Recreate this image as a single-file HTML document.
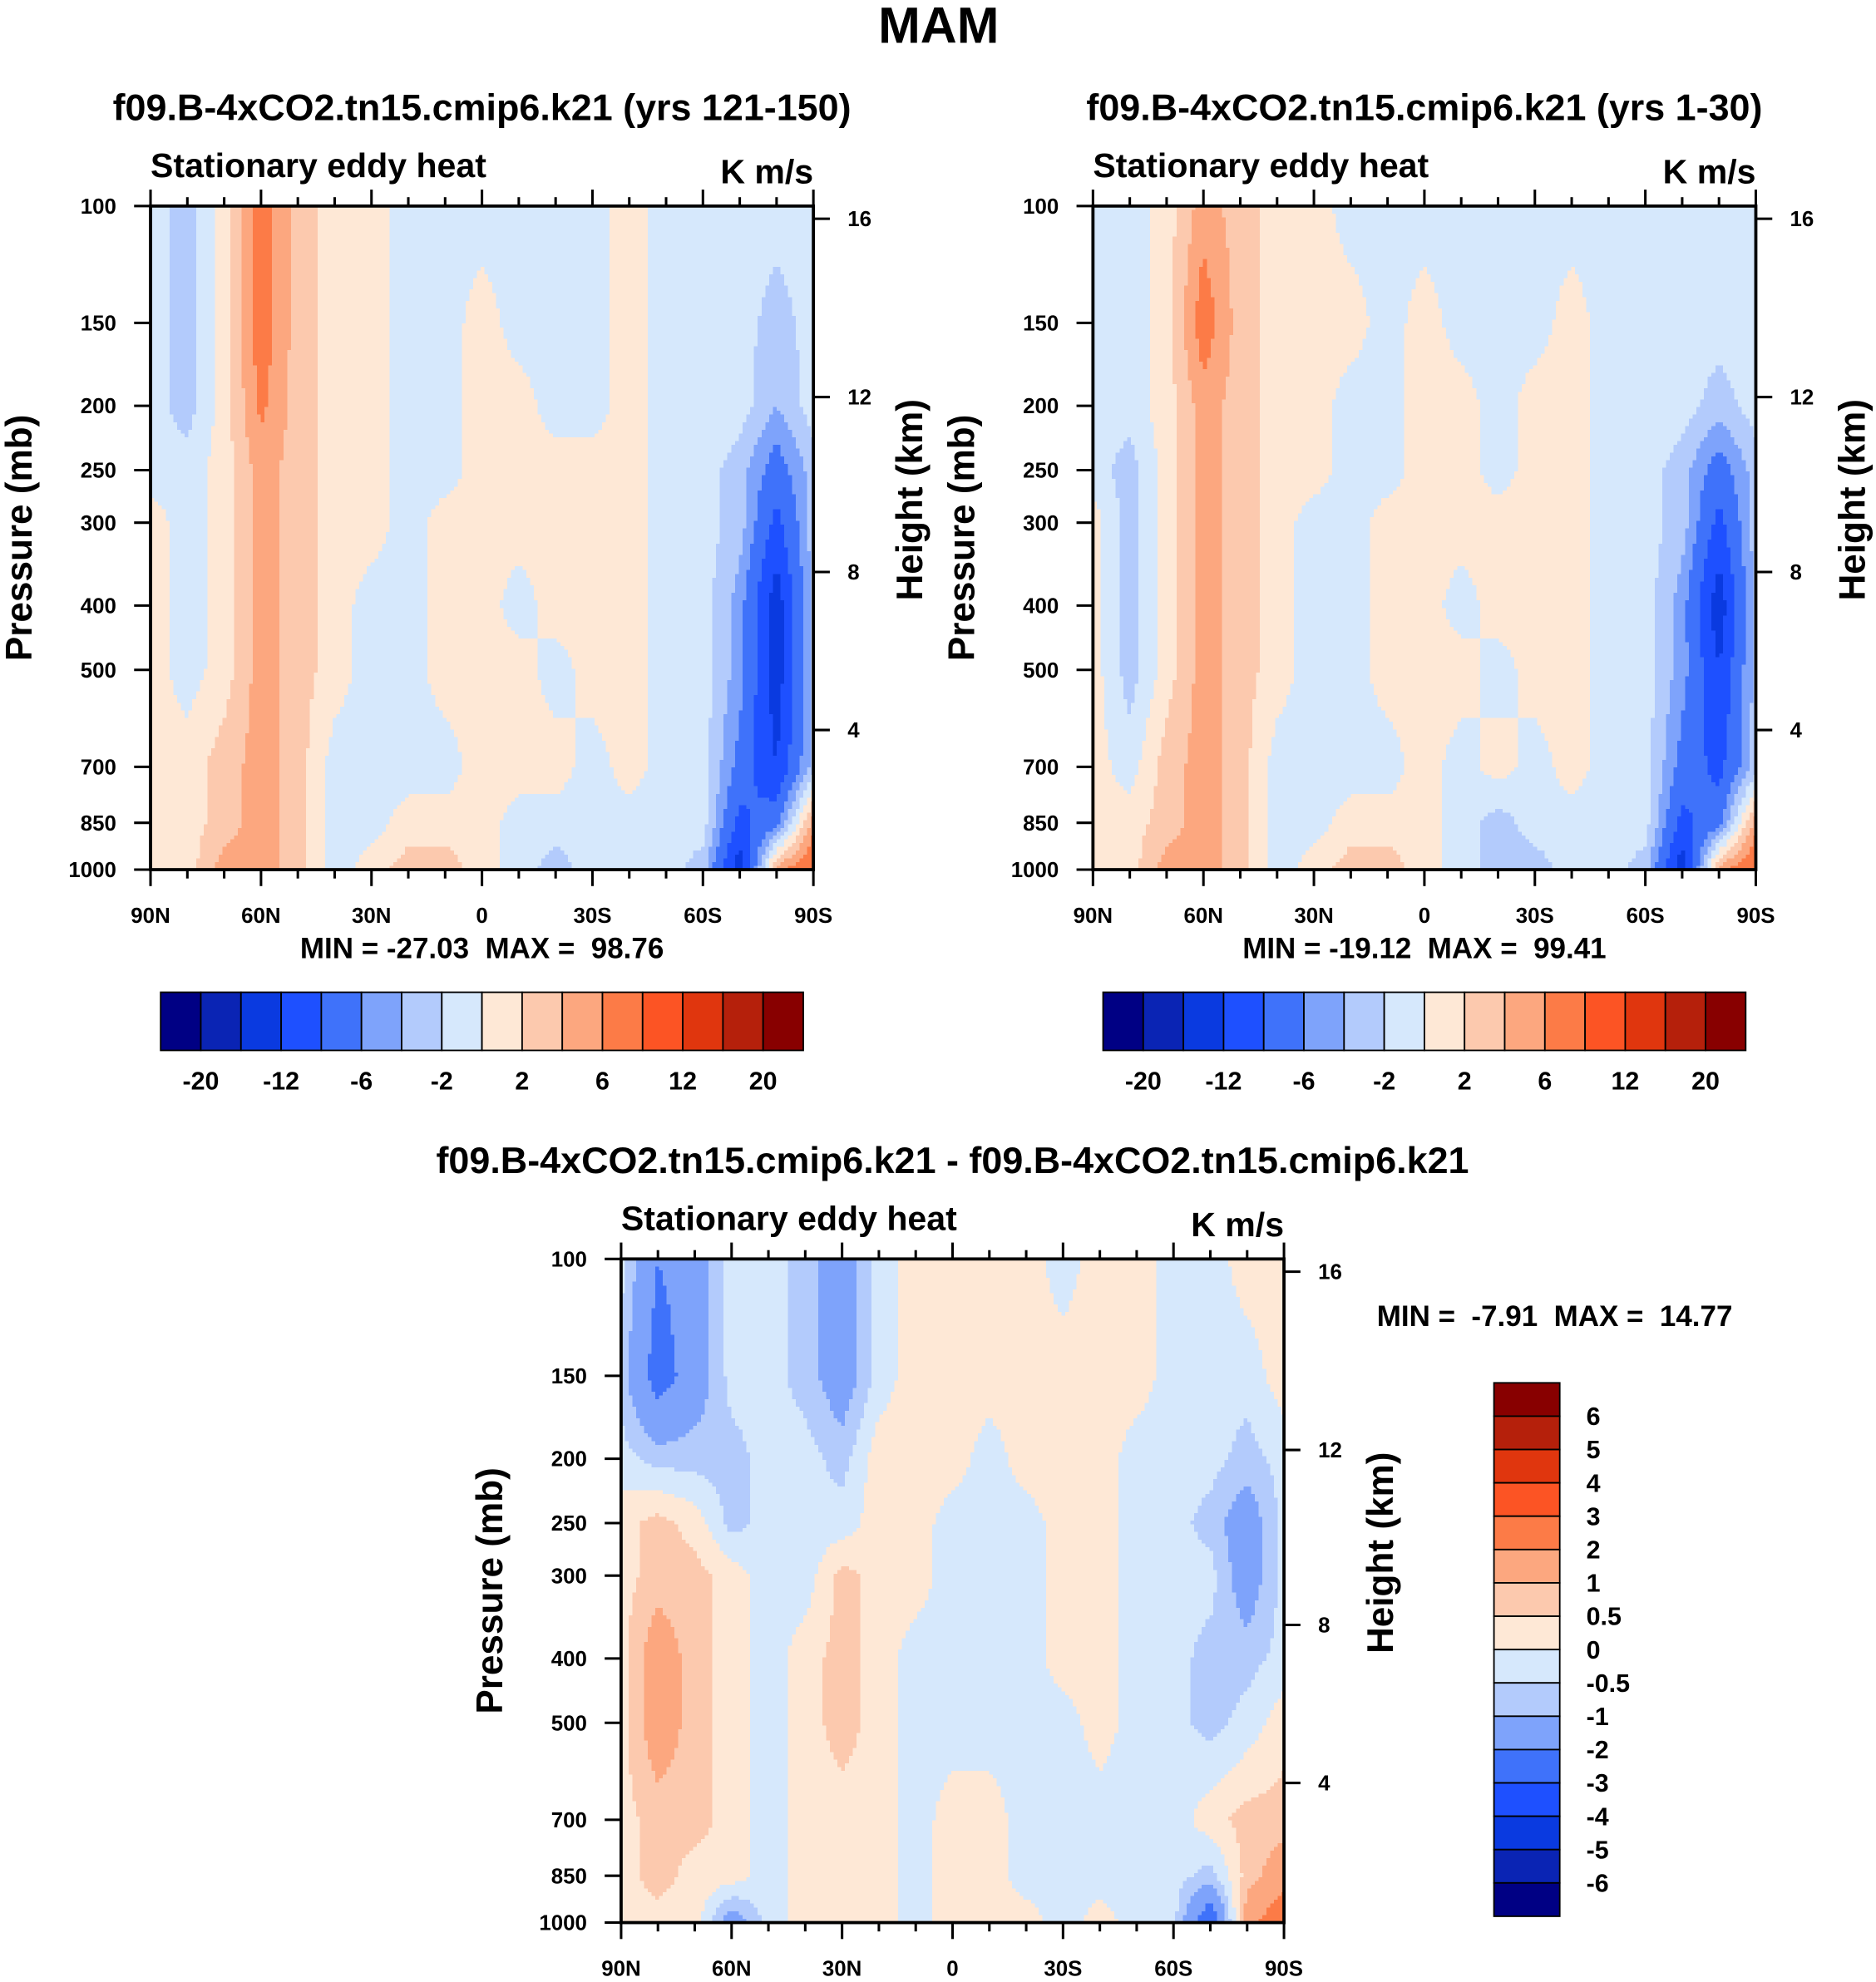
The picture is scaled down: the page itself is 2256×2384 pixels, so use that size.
<!DOCTYPE html>
<html><head><meta charset="utf-8"><style>
html,body{margin:0;padding:0;background:#fff;}
svg{display:block;}
text{font-family:"Liberation Sans",Arial,sans-serif;font-weight:bold;fill:#000;white-space:pre;}
</style></head><body>
<svg id="fig" width="2256" height="2384" viewBox="0 0 1483 1568" preserveAspectRatio="none" xmlns="http://www.w3.org/2000/svg">
<text x="742" y="34" font-size="40" text-anchor="middle">MAM</text>
</svg>
<script>
// ---- data ----
const lats = [90,80,70,60,50,40,30,20,10,0,-10,-20,-30,-40,-50,-60,-70,-80,-90];
const levels = [100,150,200,250,300,400,500,700,850,1000];
const xTickLabels = ['90N','60N','30N','0','30S','60S','90S'];
const xTickLats = [90,60,30,0,-30,-60,-90];
const heightLabels = ['16','12','8','4'];
const heightPressures = [104.5,194,356,616];
const absBounds = [-20,-16,-12,-9,-6,-4,-2,0,2,4,6,9,12,16,20];
const absBarLabels = ['-20','-12','-6','-2','2','6','12','20'];
const diffBounds = [-6,-5,-4,-3,-2,-1,-0.5,0,0.5,1,2,3,4,5,6];
const diffBarLabels = ['6','5','4','3','2','1','0.5','0','-0.5','-1','-2','-3','-4','-5','-6'];
const colors = ['#000084','#0a24b4','#0a3ae0','#1e50ff','#3f72fa','#7ea3fb','#b3cbfc','#d6e8fc',
                '#fee8d6','#fcc9ae','#fca77f','#fc7b47','#fc5424','#e0360e','#b5200b','#880000'];
const field1 = [
 [-1,-3,1,7.5,3,1,1,-1,-1,-1,-1,-1,-1,1,-1,-1,-1,-1,-1],
 [-1,-3,1,7.5,3,1,1,-1,-1,1,-1,-1,-1,1,-1,-1,-1,-3,-1],
 [-1,-3,1,6.5,3,1,1,-1,-1,1,1,-1,-1,1,-1,-1,-1,-4,-1],
 [-1,-1,1,5,3,1,1,-1,-1,1,1,1,1,1,-1,-1,-3,-7.5,-3],
 [1,-1,1,5,3,1,1,-1,1,1,1,1,1,1,-1,-1,-3,-10,-3],
 [1,-1,1,5,3,1,-1,-1,1,1,-1,1,1,1,-1,-1,-5,-14,-3],
 [1,-1,1,5,3,1,-1,-1,1,1,1,-1,1,1,-1,-1,-5,-14,-3],
 [1,1,3,5,3,-1,-1,-1,-1,1,1,1,-1,1,-1,-1,-7,-12,-3],
 [1,1,3,5,3,-1,-1,1,1,1,-1,-1,-1,-1,-1,-1,-10,-7,5],
 [1,1,5,5,3,-1,1,3,3,1,-1,-3,-1,-1,-1,-3,-14,5,9]];
const field2 = [
 [-1,-1,1,5,3,1,1,-1,-1,-1,-1,-1,-1,-1,-1,-1,-1,-1,-1],
 [-1,-1,1,7.5,3,1,1,1,-1,1,-1,-1,-1,1,-1,-1,-1,-1,-1],
 [-1,-1,1,5,3,1,1,-1,-1,1,1,-1,1,1,-1,-1,-1,-3,-1],
 [-1,-3,1,5,3,1,1,-1,-1,1,1,-1,1,1,-1,-1,-3,-7.5,-3],
 [1,-3,1,5,3,1,-1,-1,1,1,1,1,1,1,-1,-1,-3,-10,-3],
 [1,-3,1,5,3,1,-1,-1,1,1,-1,1,1,1,-1,-1,-5,-14,-3],
 [1,-3,1,5,3,1,-1,-1,1,1,1,-1,1,1,-1,-1,-5,-12,-3],
 [1,-1,3,5,3,-1,-1,-1,-1,1,-1,1,-1,1,-1,-1,-7,-10,-3],
 [1,1,3,5,3,-1,-1,1,1,1,-1,-3,-1,-1,-1,-1,-10,-7,5],
 [1,1,5,5,3,-1,1,3,3,1,-1,-3,-3,-1,-1,-3,-14,5,9]];
const field3 = [
 [-0.3,-2,-1.5,-0.3,-0.3,-0.7,-1.5,-0.3,0.3,0.3,0.3,0.3,-0.3,0.3,0.3,-0.3,-0.3,0.3,0.3],
 [-0.7,-2.5,-1.5,-0.3,-0.3,-0.7,-1.5,-0.3,0.3,0.3,0.3,0.3,0.3,0.3,0.3,-0.3,-0.3,-0.3,0.3],
 [-0.3,-0.7,-0.7,-0.7,-0.3,-0.3,-0.7,0.3,0.3,0.3,-0.3,0.3,0.3,0.3,-0.3,-0.3,-0.3,-0.7,-0.3],
 [0.3,0.7,0.3,-0.7,-0.3,-0.3,-0.3,0.3,0.3,-0.3,-0.3,-0.3,0.3,0.3,-0.3,-0.3,-0.7,-1.5,-0.3],
 [0.3,0.7,0.7,0.3,-0.3,-0.3,0.7,0.3,0.3,-0.3,-0.3,-0.3,0.3,0.3,-0.3,-0.3,-0.3,-1.5,-0.3],
 [0.3,1.5,0.7,0.3,-0.3,0.3,0.7,0.3,-0.3,-0.3,-0.3,-0.3,0.3,0.3,-0.3,-0.3,-0.7,-0.7,-0.3],
 [0.3,1.5,0.7,0.3,-0.3,0.3,0.7,0.3,-0.3,-0.3,-0.3,-0.3,-0.3,0.3,-0.3,-0.3,-0.7,-0.3,0.3],
 [0.3,0.7,0.7,0.3,-0.3,0.3,0.3,0.3,-0.3,0.3,0.3,-0.3,-0.3,-0.3,-0.3,-0.3,0.3,0.7,0.7],
 [0.3,0.7,0.3,0.3,-0.3,0.3,0.3,0.3,-0.3,0.3,0.3,-0.3,-0.3,-0.3,-0.3,-0.3,-0.7,0.7,1.5],
 [0.3,0.3,0.3,-1.5,-0.3,0.3,0.3,0.3,-0.3,0.3,0.3,0.3,-0.3,0.3,-0.3,-0.3,-3,1.5,3]];
const minmax1 = ['-27.03','98.76'];
const minmax2 = ['-19.12','99.41'];
const minmax3 = ['-7.91','14.77'];

// ---- drawing ----
const NS='http://www.w3.org/2000/svg';
const svg=document.getElementById('fig');
function mk(tag,attrs,parent){const e=document.createElementNS(NS,tag);for(const k in attrs)e.setAttribute(k,attrs[k]);(parent||svg).appendChild(e);return e;}
function txt(s,attrs,parent){const e=mk('text',attrs,parent);e.textContent=s;return e;}
const PH=525, PW=524;
function colorIdx(v,b){let i=0;while(i<b.length&&v>=b[i])i++;return i;}

function panel(x0,y0,field,bounds,title,name){
  const g=mk('g',{});
  
  
  const xs=lat=>x0+(90-lat)/180*PW;
  const ys=p=>y0+PH-Math.log10(1000/p)*PH;
  const levY=levels.map(ys);
  const cell=3;
  const nx=Math.ceil(PW/cell), ny=Math.ceil(PH/cell);
  const cg=mk('g',{'shape-rendering':'crispEdges'},g);
  
  
  for(let j=0;j<ny;j++){
    const y=y0+j*cell, hh=Math.min(cell,y0+PH-y)+0.6;
    const yc=y+cell/2;
    let r=0;while(r<levels.length-2&&yc>levY[r+1])r++;
    let ty=(yc-levY[r])/(levY[r+1]-levY[r]);ty=Math.max(0,Math.min(1,ty));
    let runStart=x0,runC=-1;
    for(let k=0;k<=nx;k++){
      const x=x0+k*cell;
      let c=-2;
      if(k<nx){
        const fx=Math.min(1,(x+cell/2-x0)/PW)*(lats.length-1);
        let i=Math.min(lats.length-2,Math.floor(fx));const tx=fx-i;
        const v=(field[r][i]*(1-tx)+field[r][i+1]*tx)*(1-ty)+(field[r+1][i]*(1-tx)+field[r+1][i+1]*tx)*ty;
        c=colorIdx(v,bounds);
      }
      if(c!==runC){
        if(runC>=0){const xe=(k>=nx)?x0+PW:x;
          const rc=mk('rect',{x:runStart,y:y,width:xe-runStart+0.6,height:Math.min(hh,y0+PH-y),fill:colors[runC]},cg);
          
          }
        runStart=x;runC=c;
      }
    }
  }
  const fr=mk('rect',{x:x0,y:y0,width:PW,height:PH,fill:'none',stroke:'#000','stroke-width':2.5},g);
  
  
  for(let lat=90;lat>=-90;lat-=10){
    const major=lat%30===0,x=xs(lat),L=major?13:7;
    mk('line',{x1:x,x2:x,y1:y0,y2:y0-L,stroke:'#000','stroke-width':2},g);
    mk('line',{x1:x,x2:x,y1:y0+PH,y2:y0+PH+L,stroke:'#000','stroke-width':2},g);
  }
  xTickLats.forEach((lat,i)=>{const t=txt(xTickLabels[i],{x:xs(lat),y:y0+PH+42,'font-size':17,'text-anchor':'middle'},g);
    
    });
  levels.forEach(p=>{const y=ys(p);
    mk('line',{x1:x0,x2:x0-13,y1:y,y2:y,stroke:'#000','stroke-width':2},g);
    const t=txt(String(p),{x:x0-27,y:y+6,'font-size':17,'text-anchor':'end'},g);
    
    });
  heightPressures.forEach((p,i)=>{const y=ys(p);
    mk('line',{x1:x0+PW,x2:x0+PW+13,y1:y,y2:y,stroke:'#000','stroke-width':2},g);
    const t=txt(heightLabels[i],{x:x0+PW+27,y:y+6,'font-size':17},g);
    
    });
  const t1=txt(title,{x:x0+PW/2,y:y0-68,'font-size':29.5,'text-anchor':'middle'},g);
  
  
  const t2=txt('Stationary eddy heat',{x:x0,y:y0-23,'font-size':27},g);
  
  
  const t3=txt('K m/s',{x:x0+PW,y:y0-18,'font-size':27,'text-anchor':'end'},g);
  
  
  const yl=txt('Pressure (mb)',{x:0,y:0,'font-size':29,'text-anchor':'middle',transform:`translate(${x0-94},${y0+PH/2}) rotate(-90)`},g);
  
  
  const yr=txt('Height (km)',{x:0,y:0,'font-size':29,'text-anchor':'middle',transform:`translate(${x0+PW+86},${y0+PH/2-30}) rotate(-90)`},g);
  
  
}
function hbar(x0,y0,name){
  const g=mk('g',{});
  
  
  const w=508/16;
  colors.forEach((c,i)=>{const r=mk('rect',{x:x0+i*w,y:y0,width:w,height:46,fill:c,stroke:'#000','stroke-width':1.2},g);
    
    });
  absBarLabels.forEach((s,k)=>{const t=txt(s,{x:x0+(2*k+1)*w,y:y0+77,'font-size':20,'text-anchor':'middle'},g);
    
    });
}
panel(119,163,field1,absBounds,'f09.B-4xCO2.tn15.cmip6.k21 (yrs 121-150)','panel-yrs-121-150');
panel(864,163,field2,absBounds,'f09.B-4xCO2.tn15.cmip6.k21 (yrs 1-30)','panel-yrs-1-30');
panel(491,996,field3,diffBounds,'f09.B-4xCO2.tn15.cmip6.k21 - f09.B-4xCO2.tn15.cmip6.k21','panel-difference');
[[381,minmax1,'minmax-1'],[1126,minmax2,'minmax-2']].forEach(([x,m,n])=>{
  const t=txt(`MIN = ${m[0]}  MAX =  ${m[1]}`,{x:x,y:758,'font-size':23,'text-anchor':'middle'});
  
  
});
const t3m=txt(`MIN =  ${minmax3[0]}  MAX =  ${minmax3[1]}`,{x:1229,y:1049,'font-size':23,'text-anchor':'middle'});


hbar(127,785,'colorbar-1');
hbar(872,785,'colorbar-2');
(function(){
  const g=mk('g',{});
  
  
  const x0=1181,y0=1094,h=422/16;
  for(let i=0;i<16;i++){
    const r=mk('rect',{x:x0,y:y0+i*h,width:52,height:h,fill:colors[15-i],stroke:'#000','stroke-width':1.2},g);
    
    
  }
  diffBarLabels.forEach((s,k)=>{const t=txt(s,{x:1254,y:y0+(k+1)*h+7,'font-size':20},g);
    
    });
})();
</script>
</body></html>
